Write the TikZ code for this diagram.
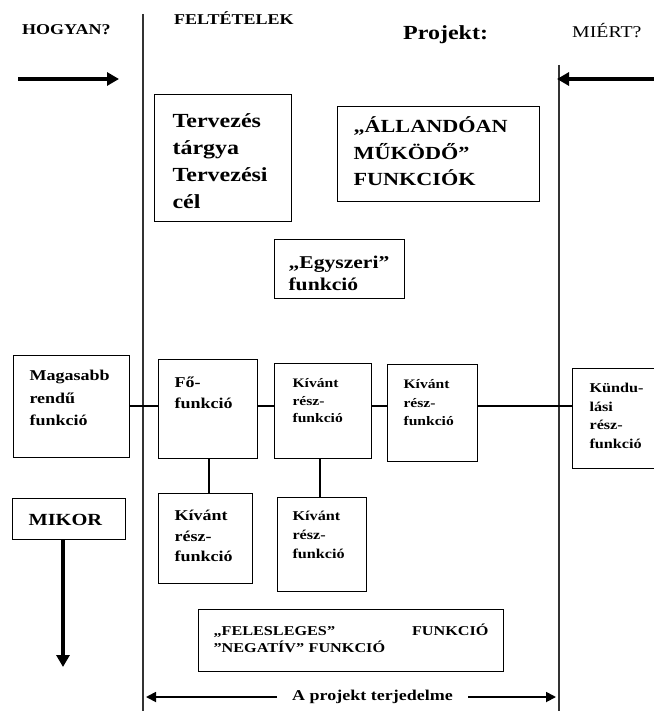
\documentclass[tikz,border=0pt]{standalone}
\usepackage{fontspec}
\setmainfont{Liberation Serif}[FakeStretch=1.2]
\usetikzlibrary{arrows.meta}
\begin{document}
\begin{tikzpicture}[x=1pt,y=-1pt,
  bx/.style={draw, line width=1.1pt, anchor=north west, inner ysep=0pt, align=left, font=\bfseries},
  lbl/.style={anchor=base west, inner sep=0pt},
  vline/.style={line width=1.2pt, draw=black!80},
  conn/.style={line width=1.1pt},
  bigarrow/.style={line width=3.2pt, -{Triangle[length=12pt,width=13pt]}},
  smallarrow/.style={line width=1.8pt, -{Triangle[length=10pt,width=10pt]}}
]
\useasboundingbox (0,0) rectangle (653,711);

% divider lines
\coordinate (vlt) at (143,14);
\coordinate (vlb) at (143,711);
\coordinate (vrt) at (559,65);
\coordinate (vrb) at (559,711);
\draw[vline] (vlt) -- (vlb);
\draw[vline] (vrt) -- (vrb);

% headings
\node[lbl, font=\fontsize{15}{18}\selectfont\bfseries] (hogyan) at (22,35) {HOGYAN?};
\node[lbl, font=\fontsize{15}{18}\selectfont\bfseries] (felt) at (174,25) {FELTÉTELEK};
\node[lbl, font=\fontsize{20}{24}\selectfont\bfseries] (proj) at (403,40) {Projekt:};
\node[lbl, font=\fontsize{16.5}{20}\selectfont] (miert) at (572,38) {MIÉRT?};

% top arrows
\coordinate (ha1) at (18,79);
\coordinate (ha2) at (119,79);
\draw[bigarrow] (ha1) -- (ha2);
\coordinate (ma1) at (660,79);
\coordinate (ma2) at (557,79);
\draw[bigarrow] (ma1) -- (ma2);

% boxes
\node[bx, inner xsep=18pt, text width=101pt, minimum width=137pt,
      text height=33pt, text depth=94pt, font=\fontsize{20}{27}\selectfont\bfseries]
  (terv) at (154,94) {Tervezés\\tárgya\\Tervezési\\cél};

\node[bx, inner xsep=16pt, text width=170pt, minimum width=202pt,
      text height=26pt, text depth=69pt, font=\fontsize{18.5}{26.5}\selectfont\bfseries]
  (all) at (337,106) {„ÁLLANDÓAN\\MŰKÖDŐ”\\FUNKCIÓK};

\node[bx, inner xsep=14pt, text width=102pt, minimum width=130pt,
      text height=29pt, text depth=30pt, font=\fontsize{18}{22}\selectfont\bfseries]
  (egy) at (274,239) {„Egyszeri”\\funkció};

\node[bx, inner xsep=16pt, text width=84pt, minimum width=116pt,
      text height=25pt, text depth=77pt, font=\fontsize{15}{22.5}\selectfont\bfseries]
  (mag) at (13,355) {Magasabb\\rendű\\funkció};

\node[bx, inner xsep=16pt, text width=67pt, minimum width=99pt,
      text height=28pt, text depth=71pt, font=\fontsize{15}{20.5}\selectfont\bfseries]
  (fo) at (158,359) {Fő-\\funkció};

\node[bx, inner xsep=18pt, text width=61pt, minimum width=97pt,
      text height=24pt, text depth=71pt, font=\fontsize{13}{17.5}\selectfont\bfseries]
  (k1) at (274,363) {Kívánt\\rész-\\funkció};

\node[bx, inner xsep=16pt, text width=58pt, minimum width=90pt,
      text height=24pt, text depth=73pt, font=\fontsize{13}{18.5}\selectfont\bfseries]
  (k2) at (387,364) {Kívánt\\rész-\\funkció};

\node[bx, inner xsep=17pt, text width=76pt, minimum width=110pt,
      text height=24pt, text depth=76pt, font=\fontsize{13.5}{18.7}\selectfont\bfseries]
  (kiind) at (572,368) {Kündu-\\lási\\rész-\\funkció};

\node[bx, inner xsep=16pt, text width=62pt, minimum width=94pt,
      text height=27pt, text depth=63pt, font=\fontsize{15}{20.5}\selectfont\bfseries]
  (kf) at (158,493) {Kívánt\\rész-\\funkció};

\node[bx, inner xsep=15pt, text width=59pt, minimum width=89pt,
      text height=23pt, text depth=71pt, font=\fontsize{13.5}{19}\selectfont\bfseries]
  (kk) at (277,497) {Kívánt\\rész-\\funkció};

\node[bx, inner xsep=16pt, text width=81pt, minimum width=113pt,
      text height=27pt, text depth=14pt, font=\fontsize{17}{20}\selectfont\bfseries]
  (mikor) at (12,498) {MIKOR};

\node[bx, inner xsep=15pt, text width=275pt, minimum width=305pt,
      text height=26pt, text depth=36pt, font=\fontsize{13.5}{17}\selectfont\bfseries]
  (fel) at (198,609) {„FELESLEGES”\hfill FUNKCIÓ\\”NEGATÍV” FUNKCIÓ};

% connectors
\coordinate (row) at (0,406);
\draw[conn] (mag.east |- row) -- (fo.west |- row);
\draw[conn] (fo.east |- row) -- (k1.west |- row);
\draw[conn] (k1.east |- row) -- (k2.west |- row);
\draw[conn] (k2.east |- row) -- (kiind.west |- row);
\coordinate (fx) at (209,0);
\draw[conn] (fo.south -| fx) -- (kf.north -| fx);
\coordinate (kx) at (320,0);
\draw[conn] (k1.south -| kx) -- (kk.north -| kx);

% MIKOR arrow
\coordinate (mikend) at (63,667);
\draw[bigarrow] (mikor.south -| mikend) -- (mikend);

% bottom span arrows
\node[lbl, font=\fontsize{15}{18}\selectfont\bfseries] (terj) at (292,700) {A projekt terjedelme};
\coordinate (bl) at (146,697);
\coordinate (br) at (556,697);
\draw[smallarrow] (terj.west |- bl) ++(-15,0) -- (bl);
\draw[smallarrow] (terj.east |- br) ++(15,0) -- (br);
\end{tikzpicture}
\end{document}
